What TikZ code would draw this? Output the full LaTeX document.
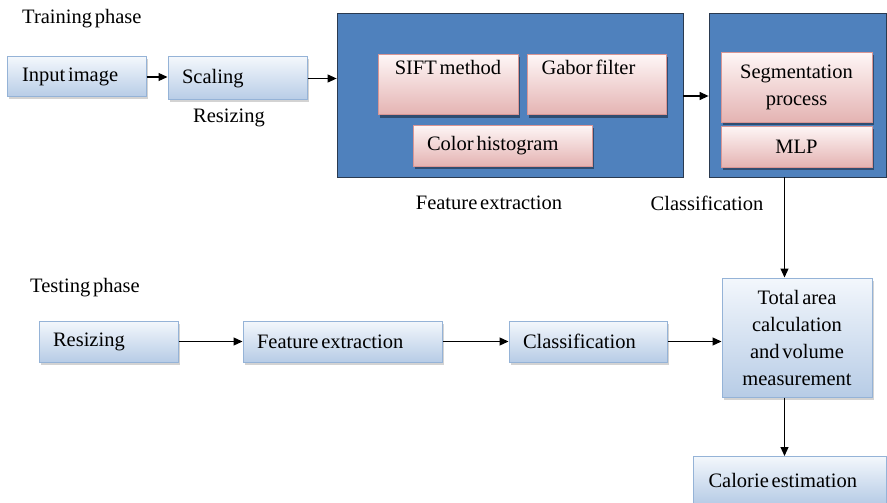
\documentclass[tikz,border=0pt]{standalone}
\usepackage{fontspec}
\newfontfamily\diagfont[WordSpace=0.55]{Liberation Serif}
\usetikzlibrary{arrows.meta,shadows}
\definecolor{bluetop}{HTML}{F3F7FC}
\definecolor{bluebot}{HTML}{B7CCE6}
\definecolor{blueline}{HTML}{95B3D7}
\definecolor{pinktop}{HTML}{FEF6F6}
\definecolor{pinkbot}{HTML}{E4B3B2}
\definecolor{pinkline}{HTML}{D99694}
\definecolor{panel}{HTML}{4F81BD}
\definecolor{panelline}{HTML}{2A3A50}
\tikzset{
  txt/.style={font=\diagfont\fontsize{20.5}{27}\selectfont, inner sep=0pt},
  bluebox/.style={txt, draw=blueline, line width=1pt, top color=bluetop, bottom color=bluebot,
    drop shadow={shadow xshift=2pt, shadow yshift=-2.5pt, opacity=0.35, fill=gray}},
  pinkbox/.style={txt, draw=pinkline, line width=1pt, top color=pinktop, bottom color=pinkbot,
    drop shadow={shadow xshift=2pt, shadow yshift=-2.5pt, opacity=0.4, fill=black}},
  panelbox/.style={draw=panelline, line width=0.8pt, fill=panel},
  conn/.style={line width=1.2pt, -{Triangle[length=9pt,width=8pt]}}
}
\begin{document}
\begin{tikzpicture}[x=1pt,y=-1pt]
\useasboundingbox (0,0) rectangle (887,503);
% training phase
\node[txt, anchor=west] (trainlbl) at (22,19) {Training phase};
\node[bluebox, minimum width=139pt, minimum height=40pt, text width=109pt, inner xsep=15pt, align=flush left] (input) at (76.5,77) {Input image};
\node[bluebox, minimum width=139pt, minimum height=43pt, text width=111pt, inner xsep=14pt, align=flush left] (scaling) at (237.5,78.5) {Scaling};
\node[txt] (resizelbl) at (229,118) {Resizing};
% feature extraction panel
\node[panelbox, minimum width=346pt, minimum height=164pt, inner sep=0pt] (fpanel) at (510,95) {};
\node[pinkbox, minimum width=140pt, minimum height=60pt, align=center] (sift) at (448,85) {SIFT method\\ \strut};
\node[pinkbox, minimum width=139pt, minimum height=60pt, text width=110pt, inner xsep=14.5pt, align=flush left] (gabor) at (596.5,85) {Gabor filter\\ \strut};
\node[pinkbox, minimum width=179pt, minimum height=41pt, text width=151pt, inner xsep=14pt, align=flush left] (color) at (502.5,145.5) {Color histogram};
\node[txt] (featlbl) at (489,203) {Feature extraction};
% classification panel
\node[panelbox, minimum width=177pt, minimum height=164pt, inner sep=0pt] (cpanel) at (797.5,95) {};
\node[pinkbox, minimum width=151pt, minimum height=69pt, align=center] (seg) at (796.5,87.5) {Segmentation\\process};
\node[pinkbox, minimum width=151pt, minimum height=41pt, align=center] (mlp) at (796.5,146.5) {MLP};
\node[txt] (classlbl) at (707,203) {Classification};
% testing phase
\node[txt, anchor=west] (testlbl) at (30,288) {Testing phase};
\node[bluebox, minimum width=139pt, minimum height=41pt, text width=111pt, inner xsep=14pt, align=flush left] (tresize) at (108.5,341.5) {Resizing};
\node[bluebox, minimum width=199pt, minimum height=41pt, text width=171pt, inner xsep=14pt, align=flush left] (tfeat) at (342.5,341.5) {Feature extraction};
\node[bluebox, minimum width=158pt, minimum height=41pt, text width=130pt, inner xsep=14pt, align=flush left] (tclass) at (588,341.5) {Classification};
\node[bluebox, minimum width=150pt, minimum height=119pt, align=center] (total) at (797,337.5) {Total area\\calculation\\and volume\\measurement};
\node[bluebox, minimum width=193pt, minimum height=47pt, text width=163pt, inner xsep=15pt, align=flush left, anchor=north west] (calorie) at (693,456) {Calorie estimation};
% connectors
\draw[conn] (input.east) -- (scaling.west |- input.east);
\draw[conn] (scaling.east) -- (fpanel.west |- scaling.east);
\draw[conn] (fpanel.east |- 0,96) -- (cpanel.west |- 0,96);
\coordinate (down) at (784.5,0);
\draw[conn] (cpanel.south -| down) -- (total.north -| down);
\draw[conn] (tresize.east) -- (tfeat.west);
\draw[conn] (tfeat.east) -- (tclass.west);
\draw[conn] (tclass.east) -- (total.west |- tclass.east);
\draw[conn] (total.south -| down) -- (calorie.north -| down);
\end{tikzpicture}
\end{document}
